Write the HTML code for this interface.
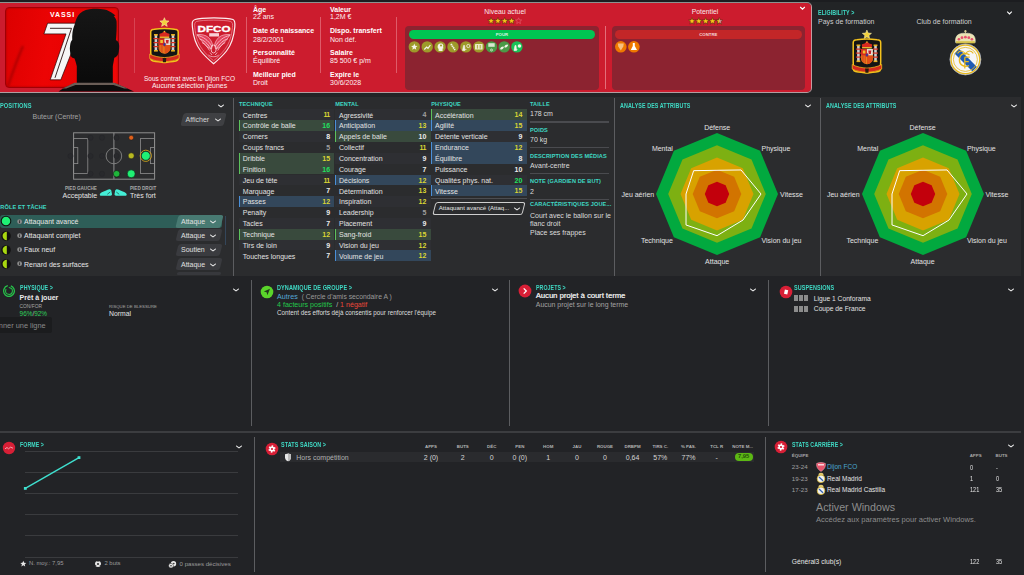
<!DOCTYPE html>
<html><head><meta charset="utf-8">
<style>
*{box-sizing:border-box;margin:0;padding:0}
html,body{width:1024px;height:575px;overflow:hidden}
body{position:relative;background:#222426;font-family:"Liberation Sans",sans-serif;color:#e6e6e6}
.a{position:absolute}
.t{position:absolute;white-space:nowrap;line-height:1}
.h{position:absolute;white-space:nowrap;line-height:1;color:#3fd9c4;font-weight:bold;font-size:5.6px;letter-spacing:0.1px}
.sep{position:absolute;width:1px;background:#5c5d60}
.chev{position:absolute;width:7px;height:5px}
</style></head>
<body>
<!-- ===== HEADER ===== -->
<div class="a" style="left:0;top:0;width:1024px;height:2px;background:#1c1d20"></div>
<div class="a" id="hdr" style="left:-4px;top:2px;width:815.8px;height:91px;background:#cc1c2e;background-clip:padding-box;border:1px solid #c49ca1;border-top-color:#8d928f;border-bottom-color:#b39c9f;border-radius:0 5px 5px 0"></div>


<!-- jersey box -->
<div class="a" style="left:5px;top:7px;width:114px;height:81px;border-radius:4px;background:linear-gradient(100deg,#dc0000 0%,#ec0404 40%,#e60202 70%,#f20808 100%);border:1px solid #a00006;box-shadow:inset 0 0 2px rgba(80,0,0,0.5)"></div><svg class="a" style="left:5px;top:40px" width="30" height="48" viewBox="5 40 30 48"><defs><filter id="fb" x="-50%" y="-50%" width="200%" height="200%"><feGaussianBlur stdDeviation="0.9"/></filter></defs><path d="M8 86 C12 74 17 60 23 46" stroke="rgba(110,0,0,0.45)" stroke-width="2.2" fill="none" filter="url(#fb)"/></svg>
<div class="t" style="left:50px;top:11px;font-size:7px;font-weight:bold;letter-spacing:0.9px;color:#fff">VASSI</div>
<svg class="a" style="left:0;top:0" width="140" height="93" viewBox="0 0 140 93">
 <defs><linearGradient id="hg" x1="0" y1="0" x2="0" y2="1"><stop offset="0" stop-color="#161616"/><stop offset="1" stop-color="#0a0a0a"/></linearGradient></defs>
 <path d="M47.6 23.2 L80 23.2 L80 31 L60.8 79.8 L50.2 79.8 L66 33.9 L43.9 33.9 Z" fill="#f6f6f6" stroke="#2a0505" stroke-width="0.7"/>
 <path d="M50 28.3 L71.5 28.3 L55 77.8" fill="none" stroke="#2a1010" stroke-width="0.9"/>
 <path d="M79.9 13.4 C83 10.5 88 9 93 8.8 C98 8.7 102 9.2 104.4 9.6 L106.7 9.9 C110 11.5 113 13 115.5 15.5 L113.8 15.9 C115.5 18 116.6 20 116.6 21.8 C116.8 28 116.5 34 115.9 40.2 C117.5 40.5 119.2 42.5 119.2 46 C119.2 50 118.5 54 117.4 55.5 C116.5 56.8 115.3 57.5 114.3 57.8 C113.8 61 113.2 64 112.8 66.2 L112.8 84.5 L76.8 84.5 L76.8 66.2 C76 63 75.2 60.5 74.5 58.6 C72.5 58 71 57 70.7 55.5 C70 52 69.6 48.5 70 46.3 C70.4 42.5 71.2 40.5 72.2 40 C72 35 72.5 29 74.5 24.9 C75.8 19.5 77.5 15.5 79.9 13.4 Z" fill="url(#hg)"/>
 <path d="M58.5 91.5 L63 88.4 L74.5 83 L114.3 83 L127.4 88.4 L134 91.5 Z" fill="#0c0c0c"/>
 <path d="M62.5 88.6 L74.5 82.8 L114.3 82.8 L127.6 88.6 L124.2 88.6 L113.5 85 L75.5 85 L66.2 88.6 Z" fill="#6b5e57"/>
</svg>
<!-- header separators -->
<div class="a" style="left:134px;top:18px;width:1px;height:55px;background:rgba(255,210,215,0.22)"></div>
<div class="a" style="left:246px;top:17px;width:1px;height:56px;background:rgba(255,210,215,0.35)"></div>
<div class="a" style="left:320px;top:17px;width:1px;height:56px;background:rgba(255,210,215,0.35)"></div>
<div class="a" style="left:396px;top:17px;width:1px;height:56px;background:rgba(255,210,215,0.35)"></div>
<div class="a" style="left:605px;top:26px;width:1px;height:63px;background:rgba(255,210,215,0.45)"></div>
<!-- contract text -->
<div class="t" style="left:143px;top:76px;width:93px;text-align:center;font-size:6.5px;color:#fff2f4">Sous contrat avec le Dijon FCO</div>
<div class="t" style="left:139.5px;top:82.6px;width:100px;text-align:center;font-size:6.95px;color:#fff2f4">Aucune sélection jeunes</div>
<!-- info column 1 -->
<div class="t" style="left:253px;top:6px;font-size:7px;font-weight:bold;color:#fff">Âge</div>
<div class="t" style="left:253px;top:13.2px;font-size:7px;color:#fdf1f2">22 ans</div>
<div class="t" style="left:253px;top:26.7px;font-size:7px;font-weight:bold;color:#fff">Date de naissance</div>
<div class="t" style="left:253px;top:35.8px;font-size:7px;color:#fdf1f2">28/2/2001</div>
<div class="t" style="left:253px;top:49px;font-size:7px;font-weight:bold;color:#fff">Personnalité</div>
<div class="t" style="left:253px;top:57.3px;font-size:7px;color:#fdf1f2">Équilibré</div>
<div class="t" style="left:253px;top:70.5px;font-size:7px;font-weight:bold;color:#fff">Meilleur pied</div>
<div class="t" style="left:253px;top:78.8px;font-size:7px;color:#fdf1f2">Droit</div>
<!-- info column 2 -->
<div class="t" style="left:330px;top:6px;font-size:7px;font-weight:bold;color:#fff">Valeur</div>
<div class="t" style="left:330px;top:13.2px;font-size:7px;color:#fdf1f2">1,2M €</div>
<div class="t" style="left:330px;top:26.7px;font-size:7px;font-weight:bold;color:#fff">Dispo. transfert</div>
<div class="t" style="left:330px;top:35.8px;font-size:7px;color:#fdf1f2">Non déf.</div>
<div class="t" style="left:330px;top:49px;font-size:7px;font-weight:bold;color:#fff">Salaire</div>
<div class="t" style="left:330px;top:57.3px;font-size:7px;color:#fdf1f2">85 500 € p/m</div>
<div class="t" style="left:330px;top:70.5px;font-size:7px;font-weight:bold;color:#fff">Expire le</div>
<div class="t" style="left:330px;top:78.8px;font-size:7px;color:#fdf1f2">30/6/2028</div>
<!-- niveau / potentiel -->
<div class="t" style="left:455px;top:8.8px;width:100px;text-align:center;font-size:6.85px;color:#fbe6e8">Niveau actuel</div>
<div class="t" style="left:655px;top:8.8px;width:100px;text-align:center;font-size:6.85px;color:#fbe6e8">Potentiel</div>
<!-- POUR / CONTRE boxes -->
<div class="a" style="left:405px;top:26px;width:194px;height:63.5px;border-radius:4px;background:#8c2330"></div>
<div class="a" style="left:408.7px;top:30px;width:186.5px;height:9.2px;border-radius:5px;background:#00c552"></div>
<div class="t" style="left:408.7px;top:33.3px;width:186.5px;text-align:center;font-size:4.3px;font-weight:bold;color:#d8f8e0">POUR</div>
<div class="a" style="left:611.5px;top:26px;width:193.5px;height:63.5px;border-radius:4px;background:#8c2330"></div>
<div class="a" style="left:615px;top:30px;width:186.7px;height:9.2px;border-radius:5px;background:#c32628"></div>
<div class="t" style="left:615px;top:33.3px;width:186.7px;text-align:center;font-size:4.3px;font-weight:bold;color:#f4d6d6">CONTRE</div>

<svg class="a" style="left:0;top:0" width="812" height="93" viewBox="0 0 812 93"><polygon points="491.10,17.40 492.05,19.69 494.52,19.89 492.64,21.50 493.22,23.91 491.10,22.62 488.98,23.91 489.56,21.50 487.68,19.89 490.15,19.69" fill="#f6c419" stroke="#5a2a10" stroke-width="0.6"/><polygon points="497.90,17.40 498.85,19.69 501.32,19.89 499.44,21.50 500.02,23.91 497.90,22.62 495.78,23.91 496.36,21.50 494.48,19.89 496.95,19.69" fill="#f6c419" stroke="#5a2a10" stroke-width="0.6"/><polygon points="504.70,17.40 505.65,19.69 508.12,19.89 506.24,21.50 506.82,23.91 504.70,22.62 502.58,23.91 503.16,21.50 501.28,19.89 503.75,19.69" fill="#f6c419" stroke="#5a2a10" stroke-width="0.6"/><polygon points="511.60,17.40 512.55,19.69 515.02,19.89 513.14,21.50 513.72,23.91 511.60,22.62 509.48,23.91 510.06,21.50 508.18,19.89 510.65,19.69" fill="#f6c419" stroke="#5a2a10" stroke-width="0.6"/><polygon points="518.60,17.80 519.45,19.84 521.64,20.01 519.97,21.44 520.48,23.59 518.60,22.44 516.72,23.59 517.23,21.44 515.56,20.01 517.75,19.84" fill="none" stroke="#e8707c" stroke-width="0.5"/><polygon points="692.00,17.60 692.95,19.89 695.42,20.09 693.54,21.70 694.12,24.11 692.00,22.82 689.88,24.11 690.46,21.70 688.58,20.09 691.05,19.89" fill="#f6c419" stroke="#5a2a10" stroke-width="0.6"/><polygon points="698.80,17.60 699.75,19.89 702.22,20.09 700.34,21.70 700.92,24.11 698.80,22.82 696.68,24.11 697.26,21.70 695.38,20.09 697.85,19.89" fill="#f6c419" stroke="#5a2a10" stroke-width="0.6"/><polygon points="705.70,17.60 706.65,19.89 709.12,20.09 707.24,21.70 707.82,24.11 705.70,22.82 703.58,24.11 704.16,21.70 702.28,20.09 704.75,19.89" fill="#f6c419" stroke="#5a2a10" stroke-width="0.6"/><polygon points="712.50,17.60 713.45,19.89 715.92,20.09 714.04,21.70 714.62,24.11 712.50,22.82 710.38,24.11 710.96,21.70 709.08,20.09 711.55,19.89" fill="#f6c419" stroke="#5a2a10" stroke-width="0.6"/><defs><clipPath id="hs"><rect x="714" y="15" width="5.3" height="12"/></clipPath></defs><polygon points="719.40,17.60 720.35,19.89 722.82,20.09 720.94,21.70 721.52,24.11 719.40,22.82 717.28,24.11 717.86,21.70 715.98,20.09 718.45,19.89" fill="#d89098" stroke="#5a2a10" stroke-width="0.5"/><g clip-path="url(#hs)"><polygon points="719.40,17.60 720.35,19.89 722.82,20.09 720.94,21.70 721.52,24.11 719.40,22.82 717.28,24.11 717.86,21.70 715.98,20.09 718.45,19.89" fill="#f6c419" stroke="#5a2a10" stroke-width="0.6"/></g><circle cx="414.3" cy="46.9" r="5.7" fill="#9d9a2a"/><circle cx="427.2" cy="46.9" r="5.7" fill="#9d9a2a"/><circle cx="440.1" cy="46.9" r="5.7" fill="#9d9a2a"/><circle cx="453.0" cy="46.9" r="5.7" fill="#9d9a2a"/><circle cx="465.9" cy="46.9" r="5.7" fill="#9d9a2a"/><circle cx="478.8" cy="46.9" r="5.7" fill="#9d9a2a"/><circle cx="491.5" cy="46.9" r="5.7" fill="#4b9a47"/><circle cx="504.2" cy="46.9" r="5.7" fill="#4b9a47"/><circle cx="516.9" cy="46.9" r="5.7" fill="#19c157"/><polygon points="414.30,43.60 415.20,45.76 417.53,45.95 415.76,47.47 416.30,49.75 414.30,48.53 412.30,49.75 412.84,47.47 411.07,45.95 413.40,45.76" fill="#f4f4e8" stroke="none" stroke-width="0"/><path d="M424.3 49.5 L426.6 47 L428 48.3 L430.4 45" stroke="#f4f4e8" stroke-width="1.2" fill="none"/><path d="M438.6 51 L438.6 48.8 C437 47.8 437.2 43.6 440.4 43.4 C443.2 43.3 443.8 45.6 443 47 L443.6 48.3 L442.6 48.6 L442.6 51 Z" fill="#f4f4e8"/><circle cx="441" cy="45.4" r="1" fill="#9c9a26"/><path d="M451 44 L455 50" stroke="#f4f4e8" stroke-width="1.8" stroke-dasharray="1.4 0.6"/><path d="M462.5 50.5 L465 50.5 L464.6 45.5 L463.6 45.5 Z M463 49.5 L466.5 49.5" fill="#f4f4e8" stroke="#f4f4e8" stroke-width="0.6"/><circle cx="468.3" cy="46" r="1.6" fill="none" stroke="#f4f4e8" stroke-width="0.8"/><rect x="475" y="44" width="7.6" height="5.6" rx="0.5" fill="#ecebc8"/><path d="M477.4 45 L477.4 48.6 M480.2 45 L480.2 48.6" stroke="#9c9a26" stroke-width="0.8"/><rect x="488.3" y="43.2" width="6.4" height="3.6" fill="#d8e8d0"/><circle cx="491.5" cy="50" r="1" fill="none" stroke="#f4f4e8" stroke-width="0.7"/><ellipse cx="502" cy="48" rx="2.1" ry="1.1" transform="rotate(-35 502 48)" fill="#f4f4e8"/><ellipse cx="506.2" cy="46" rx="2.1" ry="1.1" transform="rotate(-35 506.2 46)" fill="#f4f4e8"/><path d="M514 50.5 L516.5 50.5 L516 45.5 L515 45.5 Z M514.4 49.5 L517.5 49.5" fill="#f4f4e8" stroke="#f4f4e8" stroke-width="0.6"/><circle cx="519.5" cy="46" r="1.8" fill="#f4f4e8"/><circle cx="620.8" cy="46.8" r="5.8" fill="#ef7800"/><circle cx="633.9" cy="46.8" r="5.8" fill="#ef7800"/><path d="M617.8 43.5 L623.8 43.5 L623.3 46.5 L620.8 50.5 L618.3 46.5 Z" fill="#f7c080"/><path d="M632.8 43 L634.8 43 L634.8 46 L637 50 L630.8 50 L632.8 46 Z" fill="#fff"/><g id="spainH"><polygon points="164.40,17.70 165.67,20.75 168.97,21.02 166.45,23.17 167.22,26.38 164.40,24.66 161.58,26.38 162.35,23.17 159.83,21.02 163.13,20.75" fill="#f2d13c" stroke="#fff4b8" stroke-width="0.5"/><g transform="translate(150.3,29)"><path d="M0.4 3 C0.4 1 2 0.2 4 0.2 C9 -0.4 19.3 -0.4 24.3 0.2 C26.3 0.2 27.9 1 27.9 3 L27.9 22 C27.9 25 27.4 26.5 27.8 28 C28.6 30.5 27 32.3 23 32.4 C19 32.8 17 33.2 14.15 33.6 C11.3 33.2 9.3 32.8 5.3 32.4 C1.3 32.3 -0.3 30.5 0.5 28 C0.9 26.5 0.4 25 0.4 22 Z" fill="#151515" stroke="#f4c21c" stroke-width="1.5"/><path d="M2.2 3.6 C2.2 2.6 3 2.2 4.5 2.2 L23.8 2.2 C25.3 2.2 26.1 2.6 26.1 3.6 L26.1 25 L2.2 25 Z" fill="#141414"/><rect x="4.3" y="6" width="2.6" height="16" fill="#cfcfcf"/><rect x="3.6999999999999997" y="5" width="3.8" height="1.6" fill="#e8b020"/><rect x="3.6999999999999997" y="21" width="3.8" height="1.6" fill="#e8b020"/><rect x="3.0999999999999996" y="9" width="5" height="1.2" fill="#d83020"/><rect x="3.0999999999999996" y="13" width="5" height="1.2" fill="#d83020"/><rect x="3.0999999999999996" y="17" width="5" height="1.2" fill="#d83020"/><rect x="21.4" y="6" width="2.6" height="16" fill="#cfcfcf"/><rect x="20.799999999999997" y="5" width="3.8" height="1.6" fill="#e8b020"/><rect x="20.799999999999997" y="21" width="3.8" height="1.6" fill="#e8b020"/><rect x="20.2" y="9" width="5" height="1.2" fill="#d83020"/><rect x="20.2" y="13" width="5" height="1.2" fill="#d83020"/><rect x="20.2" y="17" width="5" height="1.2" fill="#d83020"/><path d="M9.5 8.6 L18.8 8.6 L19.3 5 C18 4 16.5 4.8 15.8 3.2 C15 2.2 13.3 2.2 12.5 3.2 C11.8 4.8 10.3 4 9 5 Z" fill="#d82a20"/><rect x="9.3" y="7.6" width="9.7" height="1.3" fill="#f0c030"/><circle cx="14.15" cy="2.6" r="0.8" fill="#f0c030"/><path d="M8.3 9.4 L20 9.4 L20 19.5 C20 22.5 17 24.2 14.15 24.8 C11.3 24.2 8.3 22.5 8.3 19.5 Z" fill="#e88a1c"/><rect x="8.3" y="9.4" width="5.85" height="6.6" fill="#d42a1e"/><rect x="14.15" y="9.4" width="5.85" height="6.6" fill="#e4ddd4"/><rect x="10" y="11" width="2.6" height="3" fill="#f0c030"/><path d="M15.5 11 L18.5 11 L18 14.5 L16 14.5 Z" fill="#c8202a"/><path d="M14.15 16 L20 16 L20 19.5 C20 22.5 17 24.2 14.15 24.8 Z" fill="#e05018"/><path d="M9.5 16 L9.5 22 M11 16 L11 23.3 M12.5 16 L12.5 24" stroke="#d42a1e" stroke-width="0.7"/><ellipse cx="14.15" cy="15.5" rx="1.3" ry="1.8" fill="#2a3aa0" stroke="#d42a1e" stroke-width="0.5"/><path d="M-0.6 25 C4 27.5 9 28.2 14.15 28.6 C19.3 28.2 24.3 27.5 28.9 25 L28.9 29.5 C24.3 32 19.3 32.4 14.15 32.8 C9 32.4 4 32 -0.6 29.5 Z" fill="#d42a1e" stroke="#f4c21c" stroke-width="0.7"/><path d="M12.3 29 L16 29 L15.6 33.3 L12.7 33.3 Z" fill="#2a1a10"/></g></g><g id="dfco"><path d="M195 19.5 C201 17.3 227 17.3 233 19.5 C235.3 20.5 235.2 23 234.8 27 C234 36 232 44 226.5 51 C222.5 56 218 60 213.6 63.8 C209.2 60 204.7 56 200.7 51 C195.2 44 193.2 36 192.4 27 C192 23 191.9 20.5 195 19.5 Z" fill="none" stroke="#fdeef0" stroke-width="1.2"/><path d="M196.5 21.5 C202 19.7 225.2 19.7 230.7 21.5 C232.7 22.3 232.8 24.5 232.4 27.5 C231.6 35.5 229.8 42.8 224.8 49.4 C221.2 54 217.5 57.5 213.6 60.8 C209.7 57.5 206 54 202.4 49.4 C197.4 42.8 195.6 35.5 194.8 27.5 C194.4 24.5 194.5 22.3 196.5 21.5 Z" fill="none" stroke="#f6a8b2" stroke-width="0.6"/><text x="214" y="31.9" text-anchor="middle" font-family="Liberation Sans" font-weight="bold" font-size="9.6" fill="#fff" stroke="#fff" stroke-width="0.35" textLength="33" lengthAdjust="spacingAndGlyphs">DFCO</text><rect x="209.2" y="33.2" width="9.8" height="3.3" fill="#f8d0d6"/><path d="M197 34.6 C201 34.2 205.5 34.8 208.5 37.5 C210.5 39.5 212 42 212.6 45 L211.5 49 C209 48.5 206.5 46.5 204.5 44 C201.5 41 199 38 197 34.6 Z" fill="#e3405a" stroke="#fbd6dc" stroke-width="0.6"/><g transform="translate(427.2 0) scale(-1 1)"><path d="M197 34.6 C201 34.2 205.5 34.8 208.5 37.5 C210.5 39.5 212 42 212.6 45 L211.5 49 C209 48.5 206.5 46.5 204.5 44 C201.5 41 199 38 197 34.6 Z" fill="#e3405a" stroke="#fbd6dc" stroke-width="0.6"/></g><path d="M197.5 35.5 C203 36.5 208 40 212 46.5 M229.7 35.5 C224.2 36.5 219.2 40 215.2 46.5 M199.5 39 C204 40 207.5 43.5 210.6 48.5 M227.7 39 C223.2 40 219.7 43.5 216.6 48.5 M202 42.5 C205 44 207.5 47 209.5 50.5 M225.2 42.5 C222.2 44 219.7 47 217.7 50.5" stroke="#fbd6dc" stroke-width="0.75" fill="none"/><ellipse cx="213.6" cy="49" rx="2.6" ry="4" fill="none" stroke="#fbd6dc" stroke-width="0.8"/><path d="M208.5 55 C211 57.3 216.2 57.3 218.7 55 M210 52.5 L212 55 M217.2 52.5 L215.2 55" stroke="#fbd6dc" stroke-width="0.7" fill="none"/></g><path d="M800.2 7 L802.5 9.2 L804.8 7" stroke="#fff" stroke-width="1.1" fill="none"/></svg>

<!-- eligibility -->
<div class="h" style="left:818px;top:9.6px;font-size:6.3px;transform:scaleX(0.847);transform-origin:0 0">ELIGIBILITY &gt;</div>
<div class="t" style="left:818px;top:17.8px;font-size:7px;color:#cfcfcf">Pays de formation</div>
<div class="t" style="left:916.5px;top:17.8px;font-size:7px;color:#cfcfcf">Club de formation</div>
<svg class="a" style="left:812px;top:0" width="212" height="96" viewBox="812 0 212 96"><path d="M1007.2 11.7 L1009.5 13.9 L1011.8 11.7" stroke="#fff" stroke-width="1.1" fill="none"/><g id="spainE"><polygon points="866.90,30.00 868.17,33.05 871.47,33.32 868.95,35.47 869.72,38.68 866.90,36.96 864.08,38.68 864.85,35.47 862.33,33.32 865.63,33.05" fill="#f2d13c" stroke="#fff4b8" stroke-width="0.5"/><g transform="translate(852.8,39.5)"><path d="M0.4 3 C0.4 1 2 0.2 4 0.2 C9 -0.4 19.3 -0.4 24.3 0.2 C26.3 0.2 27.9 1 27.9 3 L27.9 22 C27.9 25 27.4 26.5 27.8 28 C28.6 30.5 27 32.3 23 32.4 C19 32.8 17 33.2 14.15 33.6 C11.3 33.2 9.3 32.8 5.3 32.4 C1.3 32.3 -0.3 30.5 0.5 28 C0.9 26.5 0.4 25 0.4 22 Z" fill="#151515" stroke="#f4c21c" stroke-width="1.5"/><path d="M2.2 3.6 C2.2 2.6 3 2.2 4.5 2.2 L23.8 2.2 C25.3 2.2 26.1 2.6 26.1 3.6 L26.1 25 L2.2 25 Z" fill="#141414"/><rect x="4.3" y="6" width="2.6" height="16" fill="#cfcfcf"/><rect x="3.6999999999999997" y="5" width="3.8" height="1.6" fill="#e8b020"/><rect x="3.6999999999999997" y="21" width="3.8" height="1.6" fill="#e8b020"/><rect x="3.0999999999999996" y="9" width="5" height="1.2" fill="#d83020"/><rect x="3.0999999999999996" y="13" width="5" height="1.2" fill="#d83020"/><rect x="3.0999999999999996" y="17" width="5" height="1.2" fill="#d83020"/><rect x="21.4" y="6" width="2.6" height="16" fill="#cfcfcf"/><rect x="20.799999999999997" y="5" width="3.8" height="1.6" fill="#e8b020"/><rect x="20.799999999999997" y="21" width="3.8" height="1.6" fill="#e8b020"/><rect x="20.2" y="9" width="5" height="1.2" fill="#d83020"/><rect x="20.2" y="13" width="5" height="1.2" fill="#d83020"/><rect x="20.2" y="17" width="5" height="1.2" fill="#d83020"/><path d="M9.5 8.6 L18.8 8.6 L19.3 5 C18 4 16.5 4.8 15.8 3.2 C15 2.2 13.3 2.2 12.5 3.2 C11.8 4.8 10.3 4 9 5 Z" fill="#d82a20"/><rect x="9.3" y="7.6" width="9.7" height="1.3" fill="#f0c030"/><circle cx="14.15" cy="2.6" r="0.8" fill="#f0c030"/><path d="M8.3 9.4 L20 9.4 L20 19.5 C20 22.5 17 24.2 14.15 24.8 C11.3 24.2 8.3 22.5 8.3 19.5 Z" fill="#e88a1c"/><rect x="8.3" y="9.4" width="5.85" height="6.6" fill="#d42a1e"/><rect x="14.15" y="9.4" width="5.85" height="6.6" fill="#e4ddd4"/><rect x="10" y="11" width="2.6" height="3" fill="#f0c030"/><path d="M15.5 11 L18.5 11 L18 14.5 L16 14.5 Z" fill="#c8202a"/><path d="M14.15 16 L20 16 L20 19.5 C20 22.5 17 24.2 14.15 24.8 Z" fill="#e05018"/><path d="M9.5 16 L9.5 22 M11 16 L11 23.3 M12.5 16 L12.5 24" stroke="#d42a1e" stroke-width="0.7"/><ellipse cx="14.15" cy="15.5" rx="1.3" ry="1.8" fill="#2a3aa0" stroke="#d42a1e" stroke-width="0.5"/><path d="M-0.6 25 C4 27.5 9 28.2 14.15 28.6 C19.3 28.2 24.3 27.5 28.9 25 L28.9 29.5 C24.3 32 19.3 32.4 14.15 32.8 C9 32.4 4 32 -0.6 29.5 Z" fill="#d42a1e" stroke="#f4c21c" stroke-width="0.7"/><path d="M12.3 29 L16 29 L15.6 33.3 L12.7 33.3 Z" fill="#2a1a10"/></g></g><path d="M955.6 42.6 C955 38.2 956.5 35.2 959 34.2 C961 33.3 963 33.1 965.4 33.3 C967.8 33.1 969.8 33.3 971.8 34.2 C974.3 35.2 975.8 38.2 975.2 42.6 Z" fill="#ebe3b4" stroke="#f6f0d0" stroke-width="0.5"/>
<path d="M965.4 30 L965.4 33.5 M964 31.2 L966.8 31.2" stroke="#e8dca0" stroke-width="0.9"/>
<circle cx="958.9" cy="39.3" r="1.3" fill="#e8506e"/><circle cx="962" cy="37.7" r="1.4" fill="#e8506e"/><circle cx="965.4" cy="37.2" r="1.4" fill="#e8506e"/><circle cx="968.8" cy="37.7" r="1.4" fill="#e8506e"/><circle cx="971.9" cy="39.3" r="1.3" fill="#e8506e"/>
<rect x="956" y="41.2" width="18.8" height="2.1" fill="#d6c24a"/>
<defs><clipPath id="rmc"><circle cx="965.4" cy="59.4" r="13.6"/></clipPath></defs>
<circle cx="965.4" cy="59.4" r="15.5" fill="#f6f6f6" stroke="#a8adb8" stroke-width="0.8"/>
<circle cx="965.4" cy="59.4" r="14.3" fill="none" stroke="#e6b81e" stroke-width="1.3"/>
<polygon points="954.5,53.5 959,48.8 977,67 972.5,71.5" fill="#1f5bb5" clip-path="url(#rmc)"/>
<circle cx="965.4" cy="59.4" r="12" fill="none" stroke="#e6b81e" stroke-width="0.8"/>
<path d="M957.5 53.3 C960 50.2 963 50.2 965.4 54 C967.8 50.2 970.8 50.2 973.3 53.3" stroke="#e8b820" stroke-width="1.1" fill="none"/>
<path d="M969.5 55 C965.5 52 959.6 53.6 959.4 59.8 C959.4 65.2 964 67.6 969 65.6" stroke="#e8b820" stroke-width="1.4" fill="none"/>
<path d="M964.8 57.2 L964.8 68.5 M964.8 57.2 L969.8 57.2 M964.8 61.6 L968.8 61.6" stroke="#e8b820" stroke-width="1.3" fill="none"/>
</svg>
<!-- ===== ROW 2 ===== -->
<div class="a" style="left:0;top:97px;width:1020.5px;height:179px;background:#2b2c2e"></div>
<div class="sep" style="left:233px;top:98px;height:178px"></div>
<div class="sep" style="left:614px;top:98px;height:178px"></div>
<div class="sep" style="left:820px;top:98px;height:178px"></div>

<!--R2S--><div class="h" style="left:-0.3px;top:102.87px;font-size:6.3px;transform:scaleX(0.9);transform-origin:0 0">POSITIONS</div>
<svg class="a" style="left:217.6px;top:104.3px" width="6" height="4" viewBox="0 0 6 4"><path d="M0.2 0.3 L3 2.3 L5.8 0.3 L5.8 1.5 L3 3.6 L0.2 1.5 Z" fill="#f0f0f0"/></svg>
<div class="t" style="left:32.5px;top:112.8px;font-size:7px;color:#a2a2a2;font-weight:normal;">Buteur (Centre)</div>
<div class="a" style="left:182.2px;top:112.6px;width:43px;height:13.2px;background:#3f4043;border-radius:2.5px;transform:skewX(-14deg)"></div>
<div class="t" style="left:185.5px;top:115.6px;font-size:7px;color:#d6d6d6;font-weight:normal;">Afficher</div>
<svg class="a" style="left:215.1px;top:117.6px" width="6" height="4" viewBox="0 0 6 4"><path d="M0.2 0.3 L3 2.3 L5.8 0.3 L5.8 1.5 L3 3.6 L0.2 1.5 Z" fill="#e0e0e0"/></svg>
<svg class="a" style="left:60px;top:125px" width="100" height="60" viewBox="60 125 100 60"><rect x="73.6" y="132.8" width="81" height="46.4" fill="none" stroke="#8e8e8e" stroke-width="1"/><path d="M113.9 132.8 L113.9 179.2" stroke="#8e8e8e" stroke-width="1"/><circle cx="113.9" cy="156" r="7.8" fill="none" stroke="#8e8e8e" stroke-width="0.8"/><rect x="73.6" y="138.6" width="14.2" height="34.8" fill="none" stroke="#8e8e8e" stroke-width="0.8"/><rect x="73.6" y="147.6" width="4.2" height="16" fill="none" stroke="#8e8e8e" stroke-width="0.8"/><rect x="140.4" y="138.6" width="14.2" height="34.8" fill="none" stroke="#8e8e8e" stroke-width="0.8"/><rect x="150.4" y="147.6" width="4.2" height="16" fill="none" stroke="#8e8e8e" stroke-width="0.8"/><circle cx="90.5" cy="137.7" r="2.6" fill="#28292c" stroke="#252528" stroke-width="0.5"/><circle cx="102" cy="137.7" r="2.6" fill="#28292c" stroke="#252528" stroke-width="0.5"/><circle cx="116.5" cy="137.7" r="2.6" fill="#28292c" stroke="#252528" stroke-width="0.5"/><circle cx="70.5" cy="156" r="2.6" fill="#28292c" stroke="#252528" stroke-width="0.5"/><circle cx="90.5" cy="156" r="2.6" fill="#28292c" stroke="#252528" stroke-width="0.5"/><circle cx="102" cy="156" r="2.6" fill="#28292c" stroke="#252528" stroke-width="0.5"/><circle cx="116.5" cy="156" r="2.6" fill="#28292c" stroke="#252528" stroke-width="0.5"/><circle cx="90.5" cy="173.8" r="2.6" fill="#28292c" stroke="#252528" stroke-width="0.5"/><circle cx="102" cy="173.8" r="2.6" fill="#28292c" stroke="#252528" stroke-width="0.5"/><circle cx="131.2" cy="137.7" r="2.4" fill="#e0601a" stroke="#1a1a1a" stroke-width="0.5"/><circle cx="131.2" cy="155.8" r="3" fill="#b8b820" stroke="#1a1a1a" stroke-width="0.5"/><circle cx="116.6" cy="173.8" r="3.3" fill="#1fb53a" stroke="#111" stroke-width="0.6"/><circle cx="131.2" cy="173.8" r="4" fill="#1ff074" stroke="#111" stroke-width="0.6"/><circle cx="145.8" cy="155.8" r="5.6" fill="none" stroke="#d4a41a" stroke-width="0.9"/><circle cx="145.8" cy="155.8" r="4.4" fill="#1ff074" stroke="#111" stroke-width="0.5"/></svg>
<div class="t" style="left:64.6px;top:187.3px;font-size:4.6px;color:#a8a8a8;font-weight:bold;width:32.3px;text-align:right;left:64.6px;">PIED GAUCHE</div>
<div class="t" style="left:62.5px;top:192px;font-size:7px;color:#e4e4e4;font-weight:normal;width:34.4px;text-align:right;">Acceptable</div>
<div class="t" style="left:130px;top:187.3px;font-size:4.6px;color:#a8a8a8;font-weight:bold;">PIED DROIT</div>
<div class="t" style="left:130px;top:192px;font-size:7px;color:#e4e4e4;font-weight:normal;">Très fort</div>
<svg class="a" style="left:98px;top:187px" width="32" height="12" viewBox="98 187 32 12"><path d="M99.8 194.2 C100 192.8 103 191.8 105.5 190.8 C107 190.2 108.3 189.3 109.4 189.2 C110.4 189.2 111 189.8 111.3 190.5 L112 194.3 C112 195.2 111.5 195.7 110.5 195.7 L101.3 195.7 C100.3 195.7 99.7 195.2 99.8 194.2 Z" fill="#44eed6"/><path d="M107.3 194.3 L110.2 192" stroke="#23413d" stroke-width="0.7"/><g transform="translate(226.5 0) scale(-1 1)"><path d="M99.8 194.2 C100 192.8 103 191.8 105.5 190.8 C107 190.2 108.3 189.3 109.4 189.2 C110.4 189.2 111 189.8 111.3 190.5 L112 194.3 C112 195.2 111.5 195.7 110.5 195.7 L101.3 195.7 C100.3 195.7 99.7 195.2 99.8 194.2 Z" fill="#44eed6"/><path d="M107.3 194.3 L110.2 192" stroke="#23413d" stroke-width="0.7"/></g></svg>
<div class="h" style="left:0.3px;top:205.00px;font-size:5.6px;">RÔLE ET TÂCHE</div>
<div class="a" style="left:0;top:215.2px;width:222px;height:12.6px;background:#2e5e58;border-radius:3px"></div>
<div class="a" style="left:177px;top:215.2px;width:44.6px;height:12.6px;background:#487a72;border-radius:2.5px;transform:skewX(-14deg)"></div>
<svg class="a" style="left:0;top:215.4px" width="12" height="12" viewBox="0 0 12 12"><circle cx="6" cy="6" r="4.8" fill="#1ff074" stroke="#111" stroke-width="1.1"/></svg>
<svg class="a" style="left:16.5px;top:218.8px" width="5.2" height="5.2" viewBox="0 0 6 6"><circle cx="3" cy="3" r="2.8" fill="#8a8a8a"/><rect x="2.5" y="2.4" width="1" height="2.4" fill="#2a2a2a"/><rect x="2.5" y="1.1" width="1" height="0.8" fill="#2a2a2a"/></svg>
<div class="t" style="left:24px;top:218.0px;font-size:7px;color:#e6e6e6;font-weight:normal;">Attaquant avancé</div>
<div class="t" style="left:181px;top:218.0px;font-size:7px;color:#e0e0e0;font-weight:normal;">Attaque</div>
<svg class="a" style="left:210.1px;top:220.00000000000003px" width="6" height="4" viewBox="0 0 6 4"><path d="M0.2 0.3 L3 2.3 L5.8 0.3 L5.8 1.5 L3 3.6 L0.2 1.5 Z" fill="#e8e8e8"/></svg>
<svg class="a" style="left:0;top:229.6px" width="12" height="12" viewBox="0 0 12 12"><circle cx="6" cy="6" r="4.8" fill="#111"/><path d="M6.8 1.8 A4.2 4.2 0 0 0 6.8 10.2 Z" fill="#a8d810"/></svg>
<div class="a" style="left:177px;top:229.29999999999998px;width:44px;height:12.3px;background:#3a3b3f;border-radius:2.5px;transform:skewX(-14deg)"></div>
<svg class="a" style="left:16.5px;top:233.0px" width="5.2" height="5.2" viewBox="0 0 6 6"><circle cx="3" cy="3" r="2.8" fill="#8a8a8a"/><rect x="2.5" y="2.4" width="1" height="2.4" fill="#2a2a2a"/><rect x="2.5" y="1.1" width="1" height="0.8" fill="#2a2a2a"/></svg>
<div class="t" style="left:24px;top:232.2px;font-size:7px;color:#e6e6e6;font-weight:normal;">Attaquant complet</div>
<div class="t" style="left:181px;top:232.2px;font-size:7px;color:#e0e0e0;font-weight:normal;">Attaque</div>
<svg class="a" style="left:210.1px;top:234.20000000000002px" width="6" height="4" viewBox="0 0 6 4"><path d="M0.2 0.3 L3 2.3 L5.8 0.3 L5.8 1.5 L3 3.6 L0.2 1.5 Z" fill="#e8e8e8"/></svg>
<svg class="a" style="left:0;top:243.8px" width="12" height="12" viewBox="0 0 12 12"><circle cx="6" cy="6" r="4.8" fill="#111"/><path d="M6.8 1.8 A4.2 4.2 0 0 0 6.8 10.2 Z" fill="#a8d810"/></svg>
<div class="a" style="left:177px;top:243.5px;width:44px;height:12.3px;background:#3a3b3f;border-radius:2.5px;transform:skewX(-14deg)"></div>
<svg class="a" style="left:16.5px;top:247.20000000000002px" width="5.2" height="5.2" viewBox="0 0 6 6"><circle cx="3" cy="3" r="2.8" fill="#8a8a8a"/><rect x="2.5" y="2.4" width="1" height="2.4" fill="#2a2a2a"/><rect x="2.5" y="1.1" width="1" height="0.8" fill="#2a2a2a"/></svg>
<div class="t" style="left:24px;top:246.4px;font-size:7px;color:#e6e6e6;font-weight:normal;">Faux neuf</div>
<div class="t" style="left:181px;top:246.4px;font-size:7px;color:#e0e0e0;font-weight:normal;">Soutien</div>
<svg class="a" style="left:210.1px;top:248.40000000000003px" width="6" height="4" viewBox="0 0 6 4"><path d="M0.2 0.3 L3 2.3 L5.8 0.3 L5.8 1.5 L3 3.6 L0.2 1.5 Z" fill="#e8e8e8"/></svg>
<svg class="a" style="left:0;top:257.9px" width="12" height="12" viewBox="0 0 12 12"><circle cx="6" cy="6" r="4.8" fill="#111"/><path d="M6.8 1.8 A4.2 4.2 0 0 0 6.8 10.2 Z" fill="#a8d810"/></svg>
<div class="a" style="left:177px;top:257.59999999999997px;width:44px;height:12.3px;background:#3a3b3f;border-radius:2.5px;transform:skewX(-14deg)"></div>
<svg class="a" style="left:16.5px;top:261.29999999999995px" width="5.2" height="5.2" viewBox="0 0 6 6"><circle cx="3" cy="3" r="2.8" fill="#8a8a8a"/><rect x="2.5" y="2.4" width="1" height="2.4" fill="#2a2a2a"/><rect x="2.5" y="1.1" width="1" height="0.8" fill="#2a2a2a"/></svg>
<div class="t" style="left:24px;top:260.5px;font-size:7px;color:#e6e6e6;font-weight:normal;">Renard des surfaces</div>
<div class="t" style="left:181px;top:260.5px;font-size:7px;color:#e0e0e0;font-weight:normal;">Attaque</div>
<svg class="a" style="left:210.1px;top:262.5px" width="6" height="4" viewBox="0 0 6 4"><path d="M0.2 0.3 L3 2.3 L5.8 0.3 L5.8 1.5 L3 3.6 L0.2 1.5 Z" fill="#e8e8e8"/></svg>
<div class="a" style="left:177px;top:271.7px;width:44px;height:3px;background:#37383c;border-radius:2.5px;transform:skewX(-14deg)"></div>
<div class="a" style="left:224.5px;top:216px;width:1.6px;height:29px;background:#34465a"></div>
<div class="h" style="left:239.0px;top:102.00px;font-size:5.6px;">TECHNIQUE</div>
<div class="a" style="left:238.8px;top:109.40px;width:95.6px;height:10.85px;background:#2e2f33"></div>
<div class="t" style="left:242.8px;top:110.60px;line-height:10.85px;font-size:7px;color:#e2e2e2">Centres</div>
<div class="t" style="left:238.8px;top:110.40px;width:91.3px;text-align:right;line-height:10.85px;font-size:7px;font-weight:bold;color:#d9d534"><span style="margin-left:-1.1px">1</span><span style="margin-left:-1.1px">1</span></div>
<div class="a" style="left:238.8px;top:120.25px;width:95.6px;height:10.85px;background:#394a3d"></div>
<div class="a" style="left:238.8px;top:120.25px;width:1.3px;height:10.85px;background:#5cc25c"></div>
<div class="t" style="left:242.8px;top:121.45px;line-height:10.85px;font-size:7px;color:#e2e2e2">Contrôle de balle</div>
<div class="t" style="left:238.8px;top:121.25px;width:91.3px;text-align:right;line-height:10.85px;font-size:7px;font-weight:bold;color:#22e060"><span style="margin-left:-1.1px">1</span>6</div>
<div class="a" style="left:238.8px;top:131.10px;width:95.6px;height:10.85px;background:#2e2f33"></div>
<div class="t" style="left:242.8px;top:132.30px;line-height:10.85px;font-size:7px;color:#e2e2e2">Corners</div>
<div class="t" style="left:238.8px;top:132.10px;width:91.3px;text-align:right;line-height:10.85px;font-size:7px;font-weight:bold;color:#ececec">8</div>
<div class="a" style="left:238.8px;top:141.95px;width:95.6px;height:10.85px;background:transparent"></div>
<div class="t" style="left:242.8px;top:143.15px;line-height:10.85px;font-size:7px;color:#e2e2e2">Coups francs</div>
<div class="t" style="left:238.8px;top:142.95px;width:91.3px;text-align:right;line-height:10.85px;font-size:7px;font-weight:bold;color:#a0a0a0">5</div>
<div class="a" style="left:238.8px;top:152.80px;width:95.6px;height:10.85px;background:#394a3d"></div>
<div class="a" style="left:238.8px;top:152.80px;width:1.3px;height:10.85px;background:#5cc25c"></div>
<div class="t" style="left:242.8px;top:154.00px;line-height:10.85px;font-size:7px;color:#e2e2e2">Dribble</div>
<div class="t" style="left:238.8px;top:153.80px;width:91.3px;text-align:right;line-height:10.85px;font-size:7px;font-weight:bold;color:#d9d534"><span style="margin-left:-1.1px">1</span>5</div>
<div class="a" style="left:238.8px;top:163.65px;width:95.6px;height:10.85px;background:#394a3d"></div>
<div class="a" style="left:238.8px;top:163.65px;width:1.3px;height:10.85px;background:#5cc25c"></div>
<div class="t" style="left:242.8px;top:164.85px;line-height:10.85px;font-size:7px;color:#e2e2e2">Finition</div>
<div class="t" style="left:238.8px;top:164.65px;width:91.3px;text-align:right;line-height:10.85px;font-size:7px;font-weight:bold;color:#22e060"><span style="margin-left:-1.1px">1</span>6</div>
<div class="a" style="left:238.8px;top:174.50px;width:95.6px;height:10.85px;background:#2e2f33"></div>
<div class="t" style="left:242.8px;top:175.70px;line-height:10.85px;font-size:7px;color:#e2e2e2">Jeu de tête</div>
<div class="t" style="left:238.8px;top:175.50px;width:91.3px;text-align:right;line-height:10.85px;font-size:7px;font-weight:bold;color:#d9d534"><span style="margin-left:-1.1px">1</span><span style="margin-left:-1.1px">1</span></div>
<div class="a" style="left:238.8px;top:185.35px;width:95.6px;height:10.85px;background:transparent"></div>
<div class="t" style="left:242.8px;top:186.55px;line-height:10.85px;font-size:7px;color:#e2e2e2">Marquage</div>
<div class="t" style="left:238.8px;top:186.35px;width:91.3px;text-align:right;line-height:10.85px;font-size:7px;font-weight:bold;color:#ececec">7</div>
<div class="a" style="left:238.8px;top:196.20px;width:95.6px;height:10.85px;background:#33475b"></div>
<div class="a" style="left:238.8px;top:196.20px;width:1.3px;height:10.85px;background:#4a8fd8"></div>
<div class="t" style="left:242.8px;top:197.40px;line-height:10.85px;font-size:7px;color:#e2e2e2">Passes</div>
<div class="t" style="left:238.8px;top:197.20px;width:91.3px;text-align:right;line-height:10.85px;font-size:7px;font-weight:bold;color:#d9d534"><span style="margin-left:-1.1px">1</span>2</div>
<div class="a" style="left:238.8px;top:207.05px;width:95.6px;height:10.85px;background:transparent"></div>
<div class="t" style="left:242.8px;top:208.25px;line-height:10.85px;font-size:7px;color:#e2e2e2">Penalty</div>
<div class="t" style="left:238.8px;top:208.05px;width:91.3px;text-align:right;line-height:10.85px;font-size:7px;font-weight:bold;color:#ececec">9</div>
<div class="a" style="left:238.8px;top:217.90px;width:95.6px;height:10.85px;background:#2e2f33"></div>
<div class="t" style="left:242.8px;top:219.10px;line-height:10.85px;font-size:7px;color:#e2e2e2">Tacles</div>
<div class="t" style="left:238.8px;top:218.90px;width:91.3px;text-align:right;line-height:10.85px;font-size:7px;font-weight:bold;color:#ececec">7</div>
<div class="a" style="left:238.8px;top:228.75px;width:95.6px;height:10.85px;background:#394a3d"></div>
<div class="a" style="left:238.8px;top:228.75px;width:1.3px;height:10.85px;background:#5cc25c"></div>
<div class="t" style="left:242.8px;top:229.95px;line-height:10.85px;font-size:7px;color:#e2e2e2">Technique</div>
<div class="t" style="left:238.8px;top:229.75px;width:91.3px;text-align:right;line-height:10.85px;font-size:7px;font-weight:bold;color:#d9d534"><span style="margin-left:-1.1px">1</span>2</div>
<div class="a" style="left:238.8px;top:239.60px;width:95.6px;height:10.85px;background:#2e2f33"></div>
<div class="t" style="left:242.8px;top:240.80px;line-height:10.85px;font-size:7px;color:#e2e2e2">Tirs de loin</div>
<div class="t" style="left:238.8px;top:240.60px;width:91.3px;text-align:right;line-height:10.85px;font-size:7px;font-weight:bold;color:#ececec">9</div>
<div class="a" style="left:238.8px;top:250.45px;width:95.6px;height:10.85px;background:transparent"></div>
<div class="t" style="left:242.8px;top:251.65px;line-height:10.85px;font-size:7px;color:#e2e2e2">Touches longues</div>
<div class="t" style="left:238.8px;top:251.45px;width:91.3px;text-align:right;line-height:10.85px;font-size:7px;font-weight:bold;color:#ececec">7</div>
<div class="h" style="left:335.2px;top:102.00px;font-size:5.6px;">MENTAL</div>
<div class="a" style="left:335px;top:109.40px;width:95.6px;height:10.85px;background:#2e2f33"></div>
<div class="t" style="left:339px;top:110.60px;line-height:10.85px;font-size:7px;color:#e2e2e2">Agressivité</div>
<div class="t" style="left:335px;top:110.40px;width:91.3px;text-align:right;line-height:10.85px;font-size:7px;font-weight:bold;color:#a0a0a0">4</div>
<div class="a" style="left:335px;top:120.25px;width:95.6px;height:10.85px;background:#33475b"></div>
<div class="a" style="left:335px;top:120.25px;width:1.3px;height:10.85px;background:#4a8fd8"></div>
<div class="t" style="left:339px;top:121.45px;line-height:10.85px;font-size:7px;color:#e2e2e2">Anticipation</div>
<div class="t" style="left:335px;top:121.25px;width:91.3px;text-align:right;line-height:10.85px;font-size:7px;font-weight:bold;color:#d9d534"><span style="margin-left:-1.1px">1</span>3</div>
<div class="a" style="left:335px;top:131.10px;width:95.6px;height:10.85px;background:#394a3d"></div>
<div class="a" style="left:335px;top:131.10px;width:1.3px;height:10.85px;background:#5cc25c"></div>
<div class="t" style="left:339px;top:132.30px;line-height:10.85px;font-size:7px;color:#e2e2e2">Appels de balle</div>
<div class="t" style="left:335px;top:132.10px;width:91.3px;text-align:right;line-height:10.85px;font-size:7px;font-weight:bold;color:#ececec"><span style="margin-left:-1.1px">1</span>0</div>
<div class="a" style="left:335px;top:141.95px;width:95.6px;height:10.85px;background:transparent"></div>
<div class="t" style="left:339px;top:143.15px;line-height:10.85px;font-size:7px;color:#e2e2e2">Collectif</div>
<div class="t" style="left:335px;top:142.95px;width:91.3px;text-align:right;line-height:10.85px;font-size:7px;font-weight:bold;color:#d9d534"><span style="margin-left:-1.1px">1</span><span style="margin-left:-1.1px">1</span></div>
<div class="a" style="left:335px;top:152.80px;width:95.6px;height:10.85px;background:#2e2f33"></div>
<div class="t" style="left:339px;top:154.00px;line-height:10.85px;font-size:7px;color:#e2e2e2">Concentration</div>
<div class="t" style="left:335px;top:153.80px;width:91.3px;text-align:right;line-height:10.85px;font-size:7px;font-weight:bold;color:#ececec">9</div>
<div class="a" style="left:335px;top:163.65px;width:95.6px;height:10.85px;background:transparent"></div>
<div class="t" style="left:339px;top:164.85px;line-height:10.85px;font-size:7px;color:#e2e2e2">Courage</div>
<div class="t" style="left:335px;top:164.65px;width:91.3px;text-align:right;line-height:10.85px;font-size:7px;font-weight:bold;color:#ececec">7</div>
<div class="a" style="left:335px;top:174.50px;width:95.6px;height:10.85px;background:#33475b"></div>
<div class="a" style="left:335px;top:174.50px;width:1.3px;height:10.85px;background:#4a8fd8"></div>
<div class="t" style="left:339px;top:175.70px;line-height:10.85px;font-size:7px;color:#e2e2e2">Décisions</div>
<div class="t" style="left:335px;top:175.50px;width:91.3px;text-align:right;line-height:10.85px;font-size:7px;font-weight:bold;color:#d9d534"><span style="margin-left:-1.1px">1</span>2</div>
<div class="a" style="left:335px;top:185.35px;width:95.6px;height:10.85px;background:transparent"></div>
<div class="t" style="left:339px;top:186.55px;line-height:10.85px;font-size:7px;color:#e2e2e2">Détermination</div>
<div class="t" style="left:335px;top:186.35px;width:91.3px;text-align:right;line-height:10.85px;font-size:7px;font-weight:bold;color:#d9d534"><span style="margin-left:-1.1px">1</span>3</div>
<div class="a" style="left:335px;top:196.20px;width:95.6px;height:10.85px;background:#2e2f33"></div>
<div class="t" style="left:339px;top:197.40px;line-height:10.85px;font-size:7px;color:#e2e2e2">Inspiration</div>
<div class="t" style="left:335px;top:197.20px;width:91.3px;text-align:right;line-height:10.85px;font-size:7px;font-weight:bold;color:#d9d534"><span style="margin-left:-1.1px">1</span>2</div>
<div class="a" style="left:335px;top:207.05px;width:95.6px;height:10.85px;background:transparent"></div>
<div class="t" style="left:339px;top:208.25px;line-height:10.85px;font-size:7px;color:#e2e2e2">Leadership</div>
<div class="t" style="left:335px;top:208.05px;width:91.3px;text-align:right;line-height:10.85px;font-size:7px;font-weight:bold;color:#a0a0a0">5</div>
<div class="a" style="left:335px;top:217.90px;width:95.6px;height:10.85px;background:#2e2f33"></div>
<div class="t" style="left:339px;top:219.10px;line-height:10.85px;font-size:7px;color:#e2e2e2">Placement</div>
<div class="t" style="left:335px;top:218.90px;width:91.3px;text-align:right;line-height:10.85px;font-size:7px;font-weight:bold;color:#ececec">9</div>
<div class="a" style="left:335px;top:228.75px;width:95.6px;height:10.85px;background:#394a3d"></div>
<div class="a" style="left:335px;top:228.75px;width:1.3px;height:10.85px;background:#5cc25c"></div>
<div class="t" style="left:339px;top:229.95px;line-height:10.85px;font-size:7px;color:#e2e2e2">Sang-froid</div>
<div class="t" style="left:335px;top:229.75px;width:91.3px;text-align:right;line-height:10.85px;font-size:7px;font-weight:bold;color:#d9d534"><span style="margin-left:-1.1px">1</span>5</div>
<div class="a" style="left:335px;top:239.60px;width:95.6px;height:10.85px;background:#2e2f33"></div>
<div class="t" style="left:339px;top:240.80px;line-height:10.85px;font-size:7px;color:#e2e2e2">Vision du jeu</div>
<div class="t" style="left:335px;top:240.60px;width:91.3px;text-align:right;line-height:10.85px;font-size:7px;font-weight:bold;color:#d9d534"><span style="margin-left:-1.1px">1</span>2</div>
<div class="a" style="left:335px;top:250.45px;width:95.6px;height:10.85px;background:#33475b"></div>
<div class="a" style="left:335px;top:250.45px;width:1.3px;height:10.85px;background:#4a8fd8"></div>
<div class="t" style="left:339px;top:251.65px;line-height:10.85px;font-size:7px;color:#e2e2e2">Volume de jeu</div>
<div class="t" style="left:335px;top:251.45px;width:91.3px;text-align:right;line-height:10.85px;font-size:7px;font-weight:bold;color:#d9d534"><span style="margin-left:-1.1px">1</span>2</div>
<div class="h" style="left:431.2px;top:102.00px;font-size:5.6px;">PHYSIQUE</div>
<div class="a" style="left:431px;top:109.40px;width:95.6px;height:10.85px;background:#394a3d"></div>
<div class="a" style="left:431px;top:109.40px;width:1.3px;height:10.85px;background:#5cc25c"></div>
<div class="t" style="left:435px;top:110.60px;line-height:10.85px;font-size:7px;color:#e2e2e2">Accélération</div>
<div class="t" style="left:431px;top:110.40px;width:91.3px;text-align:right;line-height:10.85px;font-size:7px;font-weight:bold;color:#d9d534"><span style="margin-left:-1.1px">1</span>4</div>
<div class="a" style="left:431px;top:120.25px;width:95.6px;height:10.85px;background:#33475b"></div>
<div class="a" style="left:431px;top:120.25px;width:1.3px;height:10.85px;background:#4a8fd8"></div>
<div class="t" style="left:435px;top:121.45px;line-height:10.85px;font-size:7px;color:#e2e2e2">Agilité</div>
<div class="t" style="left:431px;top:121.25px;width:91.3px;text-align:right;line-height:10.85px;font-size:7px;font-weight:bold;color:#d9d534"><span style="margin-left:-1.1px">1</span>5</div>
<div class="a" style="left:431px;top:131.10px;width:95.6px;height:10.85px;background:#2e2f33"></div>
<div class="t" style="left:435px;top:132.30px;line-height:10.85px;font-size:7px;color:#e2e2e2">Détente verticale</div>
<div class="t" style="left:431px;top:132.10px;width:91.3px;text-align:right;line-height:10.85px;font-size:7px;font-weight:bold;color:#ececec">9</div>
<div class="a" style="left:431px;top:141.95px;width:95.6px;height:10.85px;background:#33475b"></div>
<div class="a" style="left:431px;top:141.95px;width:1.3px;height:10.85px;background:#4a8fd8"></div>
<div class="t" style="left:435px;top:143.15px;line-height:10.85px;font-size:7px;color:#e2e2e2">Endurance</div>
<div class="t" style="left:431px;top:142.95px;width:91.3px;text-align:right;line-height:10.85px;font-size:7px;font-weight:bold;color:#d9d534"><span style="margin-left:-1.1px">1</span>2</div>
<div class="a" style="left:431px;top:152.80px;width:95.6px;height:10.85px;background:#33475b"></div>
<div class="a" style="left:431px;top:152.80px;width:1.3px;height:10.85px;background:#4a8fd8"></div>
<div class="t" style="left:435px;top:154.00px;line-height:10.85px;font-size:7px;color:#e2e2e2">Équilibre</div>
<div class="t" style="left:431px;top:153.80px;width:91.3px;text-align:right;line-height:10.85px;font-size:7px;font-weight:bold;color:#ececec">8</div>
<div class="a" style="left:431px;top:163.65px;width:95.6px;height:10.85px;background:transparent"></div>
<div class="t" style="left:435px;top:164.85px;line-height:10.85px;font-size:7px;color:#e2e2e2">Puissance</div>
<div class="t" style="left:431px;top:164.65px;width:91.3px;text-align:right;line-height:10.85px;font-size:7px;font-weight:bold;color:#ececec"><span style="margin-left:-1.1px">1</span>0</div>
<div class="a" style="left:431px;top:174.50px;width:95.6px;height:10.85px;background:#2e2f33"></div>
<div class="t" style="left:435px;top:175.70px;line-height:10.85px;font-size:7px;color:#e2e2e2">Qualités phys. nat.</div>
<div class="t" style="left:431px;top:175.50px;width:91.3px;text-align:right;line-height:10.85px;font-size:7px;font-weight:bold;color:#22e060">20</div>
<div class="a" style="left:431px;top:185.35px;width:95.6px;height:10.85px;background:#33475b"></div>
<div class="a" style="left:431px;top:185.35px;width:1.3px;height:10.85px;background:#4a8fd8"></div>
<div class="t" style="left:435px;top:186.55px;line-height:10.85px;font-size:7px;color:#e2e2e2">Vitesse</div>
<div class="t" style="left:431px;top:186.35px;width:91.3px;text-align:right;line-height:10.85px;font-size:7px;font-weight:bold;color:#d9d534"><span style="margin-left:-1.1px">1</span>5</div>
<div class="a" style="left:431px;top:198px;width:96px;height:1px;background:#4c4d51"></div>
<div class="a" style="left:434px;top:202px;width:90px;height:12.6px;border:1px solid #cfcfcf;border-radius:2.5px;transform:skewX(-14deg)"></div>
<div class="t" style="left:438.8px;top:205.3px;font-size:6.1px;color:#e4e4e4;font-weight:normal;">Attaquant avancé (Attaq...</div>
<svg class="a" style="left:513.6px;top:206.9px" width="6" height="4" viewBox="0 0 6 4"><path d="M0.2 0.3 L3 2.3 L5.8 0.3 L5.8 1.5 L3 3.6 L0.2 1.5 Z" fill="#e8e8e8"/></svg>
<div class="h" style="left:530px;top:102.00px;font-size:5.6px;">TAILLE</div>
<div class="t" style="left:530px;top:110.2px;font-size:7px;color:#dcdcdc;font-weight:normal;">178 cm</div>
<div class="a" style="left:530px;top:121.3px;width:79px;height:1.4px;background:#4a4b4f"></div>
<div class="h" style="left:530px;top:127.90px;font-size:5.6px;">POIDS</div>
<div class="t" style="left:530px;top:136.2px;font-size:7px;color:#dcdcdc;font-weight:normal;">70 kg</div>
<div class="a" style="left:530px;top:147.1px;width:79px;height:1.4px;background:#4a4b4f"></div>
<div class="h" style="left:530px;top:153.50px;font-size:5.6px;">DESCRIPTION DES MÉDIAS</div>
<div class="t" style="left:530px;top:161.5px;font-size:7px;color:#dcdcdc;font-weight:normal;">Avant-centre</div>
<div class="a" style="left:530px;top:172.7px;width:79px;height:1.4px;background:#4a4b4f"></div>
<div class="h" style="left:530px;top:179.40px;font-size:5.6px;">NOTE (GARDIEN DE BUT)</div>
<div class="t" style="left:530px;top:188.2px;font-size:7px;color:#dcdcdc;font-weight:normal;">2</div>
<div class="a" style="left:530px;top:198.7px;width:79px;height:1.4px;background:#4a4b4f"></div>
<div class="h" style="left:530px;top:201.60px;font-size:5.6px;">CARACTÉRISTIQUES JOUE...</div>
<div class="t" style="left:530px;top:211.6px;font-size:7px;color:#dcdcdc;font-weight:normal;">Court avec le ballon sur le</div>
<div class="t" style="left:530px;top:220.4px;font-size:7px;color:#dcdcdc;font-weight:normal;">flanc droit</div>
<div class="t" style="left:530px;top:229.4px;font-size:7px;color:#dcdcdc;font-weight:normal;">Place ses frappes</div>
<div class="h" style="left:620px;top:102.87px;font-size:6.3px;transform:scaleX(0.848);transform-origin:0 0">ANALYSE DES ATTRIBUTS</div>
<svg class="a" style="left:804.6px;top:104.3px" width="6" height="4" viewBox="0 0 6 4"><path d="M0.2 0.3 L3 2.3 L5.8 0.3 L5.8 1.5 L3 3.6 L0.2 1.5 Z" fill="#f0f0f0"/></svg>
<svg class="a" style="left:647.2px;top:123.6px" width="140" height="140" viewBox="647.2 123.6 140 140"><polygon points="717.20,132.60 760.33,150.47 778.20,193.60 760.33,236.73 717.20,254.60 674.07,236.73 656.20,193.60 674.07,150.47" fill="#02a93f"/><polygon points="717.20,144.80 751.71,159.09 766.00,193.60 751.71,228.11 717.20,242.40 682.69,228.11 668.40,193.60 682.69,159.09" fill="#7db012"/><polygon points="717.20,157.10 743.01,167.79 753.70,193.60 743.01,219.41 717.20,230.10 691.39,219.41 680.70,193.60 691.39,167.79" fill="#d8a200"/><polygon points="717.20,169.30 734.38,176.42 741.50,193.60 734.38,210.78 717.20,217.90 700.02,210.78 692.90,193.60 700.02,176.42" fill="#d27400"/><polygon points="717.20,181.40 725.83,184.97 729.40,193.60 725.83,202.23 717.20,205.80 708.57,202.23 705.00,193.60 708.57,184.97" fill="#c2000c"/><polygon points="717.20,169.90 741.24,169.56 761.20,193.60 743.22,219.62 717.20,235.30 686.23,224.57 686.20,193.60 693.87,170.27" fill="none" stroke="#fff" stroke-width="1"/></svg>
<div class="t" style="left:677.2px;top:123.7px;width:80px;text-align:center;font-size:7px;color:#e2e2e2">Défense</div>
<div class="t" style="left:761.5px;top:144.7px;width:80px;text-align:left;font-size:7px;color:#e2e2e2">Physique</div>
<div class="t" style="left:780.1px;top:191.2px;width:80px;text-align:left;font-size:7px;color:#e2e2e2">Vitesse</div>
<div class="t" style="left:761.5px;top:237.4px;width:80px;text-align:left;font-size:7px;color:#e2e2e2">Vision du jeu</div>
<div class="t" style="left:677.2px;top:258.0px;width:80px;text-align:center;font-size:7px;color:#e2e2e2">Attaque</div>
<div class="t" style="left:592.9px;top:237.4px;width:80px;text-align:right;font-size:7px;color:#e2e2e2">Technique</div>
<div class="t" style="left:574.2px;top:191.2px;width:80px;text-align:right;font-size:7px;color:#e2e2e2">Jeu aérien</div>
<div class="t" style="left:592.9px;top:144.7px;width:80px;text-align:right;font-size:7px;color:#e2e2e2">Mental</div>
<div class="h" style="left:826px;top:102.87px;font-size:6.3px;transform:scaleX(0.848);transform-origin:0 0">ANALYSE DES ATTRIBUTS</div>
<svg class="a" style="left:1010.6px;top:104.3px" width="6" height="4" viewBox="0 0 6 4"><path d="M0.2 0.3 L3 2.3 L5.8 0.3 L5.8 1.5 L3 3.6 L0.2 1.5 Z" fill="#f0f0f0"/></svg>
<svg class="a" style="left:852.6px;top:123.6px" width="140" height="140" viewBox="852.6 123.6 140 140"><polygon points="922.60,132.60 965.73,150.47 983.60,193.60 965.73,236.73 922.60,254.60 879.47,236.73 861.60,193.60 879.47,150.47" fill="#02a93f"/><polygon points="922.60,144.80 957.11,159.09 971.40,193.60 957.11,228.11 922.60,242.40 888.09,228.11 873.80,193.60 888.09,159.09" fill="#7db012"/><polygon points="922.60,157.10 948.41,167.79 959.10,193.60 948.41,219.41 922.60,230.10 896.79,219.41 886.10,193.60 896.79,167.79" fill="#d8a200"/><polygon points="922.60,169.30 939.78,176.42 946.90,193.60 939.78,210.78 922.60,217.90 905.42,210.78 898.30,193.60 905.42,176.42" fill="#d27400"/><polygon points="922.60,181.40 931.23,184.97 934.80,193.60 931.23,202.23 922.60,205.80 913.97,202.23 910.40,193.60 913.97,184.97" fill="#c2000c"/><polygon points="922.60,169.90 946.64,169.56 966.60,193.60 948.62,219.62 922.60,235.30 891.63,224.57 891.60,193.60 899.27,170.27" fill="none" stroke="#fff" stroke-width="1"/></svg>
<div class="t" style="left:882.6px;top:123.7px;width:80px;text-align:center;font-size:7px;color:#e2e2e2">Défense</div>
<div class="t" style="left:966.9px;top:144.7px;width:80px;text-align:left;font-size:7px;color:#e2e2e2">Physique</div>
<div class="t" style="left:985.5px;top:191.2px;width:80px;text-align:left;font-size:7px;color:#e2e2e2">Vitesse</div>
<div class="t" style="left:966.9px;top:237.4px;width:80px;text-align:left;font-size:7px;color:#e2e2e2">Vision du jeu</div>
<div class="t" style="left:882.6px;top:258.0px;width:80px;text-align:center;font-size:7px;color:#e2e2e2">Attaque</div>
<div class="t" style="left:798.3px;top:237.4px;width:80px;text-align:right;font-size:7px;color:#e2e2e2">Technique</div>
<div class="t" style="left:779.6px;top:191.2px;width:80px;text-align:right;font-size:7px;color:#e2e2e2">Jeu aérien</div>
<div class="t" style="left:798.3px;top:144.7px;width:80px;text-align:right;font-size:7px;color:#e2e2e2">Mental</div><!--R2E-->
<!-- ===== ROW 3 ===== -->
<div class="a" style="left:0;top:276px;width:1024px;height:155px;background:#222326"></div>
<div class="sep" style="left:251px;top:280px;height:146px"></div>
<div class="sep" style="left:509px;top:280px;height:146px"></div>
<div class="sep" style="left:768px;top:280px;height:146px"></div>

<!-- ===== ROW 4 ===== -->
<div class="a" style="left:0;top:431px;width:1021px;height:2px;background:#3c3d40"></div>
<div class="a" style="left:0;top:433px;width:1024px;height:142px;background:#222326"></div>
<div class="sep" style="left:254px;top:437px;height:134.5px"></div>
<div class="sep" style="left:765px;top:437px;height:134.5px"></div>

<!--R34S--><svg class="a" style="left:0.9000000000000004px;top:282.5px" width="16" height="16" viewBox="-8 -8 16 16"><circle r="6.3" fill="none"/><circle r="5.4" fill="none" stroke="#27c24a" stroke-width="1.3" stroke-dasharray="30 4" transform="rotate(-70)"/><circle r="3.4" fill="none" stroke="#27c24a" stroke-width="1" stroke-dasharray="17 3" transform="rotate(-80)"/></svg>
<div class="h" style="left:19.6px;top:285.07px;font-size:6.3px;transform:scaleX(0.847);transform-origin:0 0">PHYSIQUE &gt;</div>
<div class="t" style="left:19.6px;top:293.83px;font-size:7.05px;color:#ececec;font-weight:bold;">Prêt à jouer</div>
<div class="t" style="left:19.6px;top:304.79px;font-size:4.85px;color:#a8a8a8;font-weight:normal;">CON/FOR</div>
<div class="t" style="left:19.6px;top:311.08px;font-size:6.4px;color:#2ecf5a;font-weight:normal;"><span style="color:#2ecf5a">96%</span><span style="color:#bbb">/</span><span style="color:#2ecf5a">92%</span></div>
<div class="t" style="left:109.1px;top:304.66px;font-size:4.3px;color:#a8a8a8;font-weight:normal;">RISQUE DE BLESSURE</div>
<div class="t" style="left:109.1px;top:310.84px;font-size:6.8px;color:#e4e4e4;font-weight:normal;">Normal</div>
<svg class="a" style="left:232.7px;top:287.8px" width="6" height="4" viewBox="0 0 6 4"><path d="M0.2 0.3 L3 2.3 L5.8 0.3 L5.8 1.5 L3 3.6 L0.2 1.5 Z" fill="#f0f0f0"/></svg>
<div class="a" style="left:-4px;top:317.1px;width:55.7px;height:15.7px;background:#1b1c1e;border-radius:2px"></div>
<div class="t" style="left:-1.2px;top:321.54px;font-size:7.4px;color:#8a8a8a;font-weight:normal;">nner une ligne</div>
<svg class="a" style="left:259.2px;top:283.6px" width="16" height="16" viewBox="-8 -8 16 16"><circle r="6.3" fill="#5ad42a"/><path d="M3 -3.2 L-3.2 -0.6 L-0.4 0.2 L0.4 3.2 Z" fill="#233a1c"/></svg>
<div class="h" style="left:277px;top:285.07px;font-size:6.3px;transform:scaleX(0.878);transform-origin:0 0">DYNAMIQUE DE GROUPE &gt;</div>
<div class="t" style="left:277px;top:292.66px;font-size:7.2px;color:#e0e0e0;font-weight:normal;"><span style="color:#55a7d6">Autres</span> <span style="color:#9a9a9a;font-size:6.8px">&nbsp;( Cercle d&#39;amis secondaire A )</span></div>
<div class="t" style="left:277px;top:301.79px;font-size:7.1px;color:#e0e0e0;font-weight:normal;"><span style="color:#22c84c">4 facteurs positifs</span> <span style="color:#bbb">&nbsp;/&nbsp;</span><span style="color:#e8483a">1 négatif</span></div>
<div class="t" style="left:277px;top:310.08px;font-size:6.28px;color:#dedede;font-weight:normal;">Content des efforts déjà consentis pour renforcer l&#39;équipe</div>
<svg class="a" style="left:491.5px;top:287.8px" width="6" height="4" viewBox="0 0 6 4"><path d="M0.2 0.3 L3 2.3 L5.8 0.3 L5.8 1.5 L3 3.6 L0.2 1.5 Z" fill="#f0f0f0"/></svg>
<svg class="a" style="left:517.2px;top:282.8px" width="16" height="16" viewBox="-8 -8 16 16"><circle r="6.4" fill="#d81f36"/><path d="M-1.3 -2.6 L1.3 0 L-1.3 2.6" stroke="#fff" stroke-width="1.3" fill="none"/></svg>
<div class="h" style="left:535.6px;top:285.07px;font-size:6.3px;transform:scaleX(0.833);transform-origin:0 0">PROJETS &gt;</div>
<div class="t" style="left:535.8px;top:291.77px;font-size:7.6px;color:#e2e2e2;font-weight:normal;text-shadow:0.25px 0 0 #e2e2e2;">Aucun projet à court terme</div>
<div class="t" style="left:535.8px;top:302.03px;font-size:6.93px;color:#a2a2a2;font-weight:normal;">Aucun projet sur le long terme</div>
<svg class="a" style="left:749.5px;top:287.8px" width="6" height="4" viewBox="0 0 6 4"><path d="M0.2 0.3 L3 2.3 L5.8 0.3 L5.8 1.5 L3 3.6 L0.2 1.5 Z" fill="#f0f0f0"/></svg>
<svg class="a" style="left:777.7px;top:284.3px" width="16" height="16" viewBox="-8 -8 16 16"><circle r="6.3" fill="#d81f36"/><rect x="-1.6" y="-2.2" width="3.4" height="4.4" fill="#fff" transform="rotate(12)"/></svg>
<div class="h" style="left:794.1px;top:285.07px;font-size:6.3px;transform:scaleX(0.866);transform-origin:0 0">SUSPENSIONS</div>
<div class="a" style="left:794.1px;top:295.1px;width:4.2px;height:5.6px;background:#8c8c8c"></div>
<div class="a" style="left:799px;top:295.1px;width:4.2px;height:5.6px;background:#8c8c8c"></div>
<div class="a" style="left:803.9px;top:295.1px;width:4.2px;height:5.6px;background:#8c8c8c"></div>
<div class="a" style="left:794.1px;top:306px;width:4.2px;height:5.6px;background:#8c8c8c"></div>
<div class="a" style="left:799px;top:306px;width:4.2px;height:5.6px;background:#8c8c8c"></div>
<div class="a" style="left:803.9px;top:306px;width:4.2px;height:5.6px;background:#8c8c8c"></div>
<div class="t" style="left:813.8px;top:295.93px;font-size:6.7px;color:#e2e2e2;font-weight:normal;">Ligue 1 Conforama</div>
<div class="t" style="left:813.8px;top:305.83px;font-size:6.7px;color:#e2e2e2;font-weight:normal;">Coupe de France</div>
<svg class="a" style="left:1008.3000000000001px;top:287.8px" width="6" height="4" viewBox="0 0 6 4"><path d="M0.2 0.3 L3 2.3 L5.8 0.3 L5.8 1.5 L3 3.6 L0.2 1.5 Z" fill="#f0f0f0"/></svg>
<svg class="a" style="left:0.5999999999999996px;top:439.7px" width="16" height="16" viewBox="-8 -8 16 16"><circle r="6.2" fill="#d81f36"/><path d="M-4 0.8 L-2 -0.5 L-0.5 0.8 L1.5 -0.8 L4 0.2" stroke="#f4c8cc" stroke-width="0.8" fill="none"/></svg>
<div class="h" style="left:19.6px;top:442.07px;font-size:6.3px;transform:scaleX(0.83);transform-origin:0 0">FORME &gt;</div>
<svg class="a" style="left:235.7px;top:444.7px" width="6" height="4" viewBox="0 0 6 4"><path d="M0.2 0.3 L3 2.3 L5.8 0.3 L5.8 1.5 L3 3.6 L0.2 1.5 Z" fill="#f0f0f0"/></svg>
<div class="a" style="left:24.8px;top:450.6px;width:213px;height:1px;background:#3a3b3e"></div>
<div class="a" style="left:24.8px;top:472.0px;width:213px;height:1px;background:#3a3b3e"></div>
<div class="a" style="left:24.8px;top:493.0px;width:213px;height:1px;background:#3a3b3e"></div>
<div class="a" style="left:24.8px;top:514.1px;width:213px;height:1px;background:#3a3b3e"></div>
<div class="a" style="left:24.8px;top:535.3px;width:213px;height:1px;background:#3a3b3e"></div>
<div class="a" style="left:24.8px;top:556.7px;width:213px;height:1px;background:#3a3b3e"></div>
<svg class="a" style="left:20px;top:452px" width="66" height="42" viewBox="20 452 66 42"><path d="M25.3 488.4 L79 457.6" stroke="#3fe0cf" stroke-width="1.4"/><rect x="23.9" y="487" width="2.8" height="2.8" fill="#3fe0cf"/><rect x="77.6" y="456.2" width="2.8" height="2.8" fill="#3fe0cf"/></svg>
<svg class="a" style="left:20px;top:560px" width="8" height="8" viewBox="0 0 8 8"><polygon points="3.3,0.8 4.2,2.7 6.3,2.9 4.7,4.3 5.2,6.4 3.3,5.3 1.4,6.4 1.9,4.3 0.3,2.9 2.4,2.7" fill="#e8e8e8"/></svg>
<div class="t" style="left:28.9px;top:561.11px;font-size:5.9px;color:#9c9c9c;font-weight:normal;">N. moy.: 7,95</div>
<svg class="a" style="left:94px;top:560px" width="8" height="8" viewBox="-4 -4 8 8"><circle r="3" fill="#e8e8e8"/><circle r="1.1" fill="#333"/><circle cx="0" cy="-2.6" r="0.6" fill="#333"/><circle cx="2.3" cy="1.4" r="0.6" fill="#333"/><circle cx="-2.3" cy="1.4" r="0.6" fill="#333"/></svg>
<div class="t" style="left:104.4px;top:561.06px;font-size:5.95px;color:#9c9c9c;font-weight:normal;">2 buts</div>
<svg class="a" style="left:168px;top:559.5px" width="9" height="9" viewBox="-4.5 -4.5 9 9"><circle cx="1" cy="-0.8" r="2.7" fill="#e8e8e8"/><circle cx="-1.5" cy="1.2" r="2.4" fill="#e8e8e8" stroke="#222" stroke-width="0.5"/><circle cx="-1.5" cy="1.2" r="0.8" fill="#333"/><circle cx="1.3" cy="-1" r="0.8" fill="#333"/></svg>
<div class="t" style="left:179.6px;top:560.94px;font-size:6.1px;color:#9c9c9c;font-weight:normal;">0 passes décisives</div>
<svg class="a" style="left:264.1px;top:441px" width="16" height="16" viewBox="-8 -8 16 16"><circle r="6.3" fill="#d81f36"/><polygon points="-0.81,-3.61 0.81,-3.61 0.78,-2.48 1.76,-1.91 2.72,-2.50 3.53,-1.11 2.54,-0.57 2.54,0.57 3.53,1.11 2.72,2.50 1.76,1.91 0.78,2.48 0.81,3.61 -0.81,3.61 -0.78,2.48 -1.76,1.91 -2.72,2.50 -3.53,1.11 -2.54,0.57 -2.54,-0.57 -3.53,-1.11 -2.72,-2.50 -1.76,-1.91 -0.78,-2.48" fill="#fff" transform="rotate(8)"/><circle r="1.1" fill="#d81f36"/></svg>
<div class="h" style="left:280.5px;top:442.07px;font-size:6.3px;transform:scaleX(0.86);transform-origin:0 0">STATS SAISON &gt;</div>
<div class="t" style="left:411px;top:445.18px;width:40px;text-align:center;font-size:4.4px;font-weight:bold;color:#b4b4b4">APPS</div>
<div class="t" style="left:442.8px;top:445.18px;width:40px;text-align:center;font-size:4.4px;font-weight:bold;color:#b4b4b4">BUTS</div>
<div class="t" style="left:471.7px;top:445.18px;width:40px;text-align:center;font-size:4.4px;font-weight:bold;color:#b4b4b4">DÉC</div>
<div class="t" style="left:499.79999999999995px;top:445.18px;width:40px;text-align:center;font-size:4.4px;font-weight:bold;color:#b4b4b4">PEN</div>
<div class="t" style="left:528.2px;top:445.18px;width:40px;text-align:center;font-size:4.4px;font-weight:bold;color:#b4b4b4">HOM</div>
<div class="t" style="left:557px;top:445.18px;width:40px;text-align:center;font-size:4.4px;font-weight:bold;color:#b4b4b4">JAU</div>
<div class="t" style="left:585px;top:445.18px;width:40px;text-align:center;font-size:4.4px;font-weight:bold;color:#b4b4b4">ROUGE</div>
<div class="t" style="left:612.6px;top:445.18px;width:40px;text-align:center;font-size:4.4px;font-weight:bold;color:#b4b4b4">DRBPM</div>
<div class="t" style="left:640.3px;top:445.18px;width:40px;text-align:center;font-size:4.4px;font-weight:bold;color:#b4b4b4">TIRS C.</div>
<div class="t" style="left:668.5px;top:445.18px;width:40px;text-align:center;font-size:4.4px;font-weight:bold;color:#b4b4b4">% PAS.</div>
<div class="t" style="left:696.7px;top:445.18px;width:40px;text-align:center;font-size:4.4px;font-weight:bold;color:#b4b4b4">TCL R</div>
<div class="t" style="left:722.6px;top:445.18px;width:40px;text-align:center;font-size:4.4px;font-weight:bold;color:#b4b4b4">NOTE M...</div>
<div class="a" style="left:280px;top:452.3px;width:474.4px;height:9.4px;background:#2a2b2e"></div>
<svg class="a" style="left:284px;top:453px" width="8" height="9" viewBox="0 0 8 9"><path d="M1 1.3 L4 0.5 L7 1.3 L7 4.5 C7 6.5 5.5 7.6 4 8.3 C2.5 7.6 1 6.5 1 4.5 Z" fill="#e8e8e8"/><path d="M4 0.5 L7 1.3 L7 4.5 C7 6.5 5.5 7.6 4 8.3 Z" fill="#bdbdbd"/></svg>
<div class="t" style="left:296.2px;top:453.77px;font-size:7px;color:#b0b0b0;font-weight:normal;">Hors compétition</div>
<div class="t" style="left:411px;top:453.77px;width:40px;text-align:center;font-size:7px;color:#d6d6d6">2 (0)</div>
<div class="t" style="left:442.8px;top:453.77px;width:40px;text-align:center;font-size:7px;color:#d6d6d6">2</div>
<div class="t" style="left:471.7px;top:453.77px;width:40px;text-align:center;font-size:7px;color:#d6d6d6">0</div>
<div class="t" style="left:499.79999999999995px;top:453.77px;width:40px;text-align:center;font-size:7px;color:#d6d6d6">0 (0)</div>
<div class="t" style="left:528.2px;top:453.77px;width:40px;text-align:center;font-size:7px;color:#d6d6d6">1</div>
<div class="t" style="left:557px;top:453.77px;width:40px;text-align:center;font-size:7px;color:#d6d6d6">0</div>
<div class="t" style="left:585px;top:453.77px;width:40px;text-align:center;font-size:7px;color:#d6d6d6">0</div>
<div class="t" style="left:612.6px;top:453.77px;width:40px;text-align:center;font-size:7px;color:#d6d6d6">0,64</div>
<div class="t" style="left:640.3px;top:453.77px;width:40px;text-align:center;font-size:7px;color:#d6d6d6">57%</div>
<div class="t" style="left:668.5px;top:453.77px;width:40px;text-align:center;font-size:7px;color:#d6d6d6">77%</div>
<div class="t" style="left:696.7px;top:453.77px;width:40px;text-align:center;font-size:7px;color:#d6d6d6">-</div>
<div class="a" style="left:734.6px;top:453.2px;width:18px;height:7.4px;border-radius:4px;background:#5cb814"></div>
<div class="t" style="left:734.6px;top:454.36px;width:18px;text-align:center;font-size:5.8px;font-weight:bold;color:#24500c">7,95</div>
<svg class="a" style="left:773.2px;top:439.4px" width="16" height="16" viewBox="-8 -8 16 16"><circle r="6.3" fill="#d81f36"/><polygon points="-0.81,-3.61 0.81,-3.61 0.78,-2.48 1.76,-1.91 2.72,-2.50 3.53,-1.11 2.54,-0.57 2.54,0.57 3.53,1.11 2.72,2.50 1.76,1.91 0.78,2.48 0.81,3.61 -0.81,3.61 -0.78,2.48 -1.76,1.91 -2.72,2.50 -3.53,1.11 -2.54,0.57 -2.54,-0.57 -3.53,-1.11 -2.72,-2.50 -1.76,-1.91 -0.78,-2.48" fill="#fff" transform="rotate(8)"/><circle r="1.1" fill="#d81f36"/></svg>
<div class="h" style="left:791.8px;top:441.87px;font-size:6.3px;transform:scaleX(0.83);transform-origin:0 0">STATS CARRIÈRE &gt;</div>
<svg class="a" style="left:1008.1px;top:444.3px" width="6" height="4" viewBox="0 0 6 4"><path d="M0.2 0.3 L3 2.3 L5.8 0.3 L5.8 1.5 L3 3.6 L0.2 1.5 Z" fill="#f0f0f0"/></svg>
<div class="t" style="left:791.8px;top:453.88px;font-size:4.4px;color:#a8a8a8;font-weight:bold;">ÉQUIPE</div>
<div class="t" style="left:969.7px;top:453.88px;font-size:4.4px;color:#a8a8a8;font-weight:bold;">APPS</div>
<div class="t" style="left:995.6px;top:453.88px;font-size:4.4px;color:#a8a8a8;font-weight:bold;">BUTS</div>
<div class="t" style="left:791.8px;top:464.35px;font-size:6.2px;color:#a0a0a0;font-weight:normal;">23-24</div>
<div class="t" style="left:826.9px;top:464.1px;font-size:6.5px;color:#4aa8d0;font-weight:normal;">Dijon FCO</div>
<div class="t" style="left:969.7px;top:464.64px;font-size:6.8px;color:#e4e4e4;font-weight:normal;transform:scaleX(0.82);transform-origin:0 0;">0</div>
<div class="t" style="left:995.6px;top:464.64px;font-size:6.8px;color:#e4e4e4;font-weight:normal;transform:scaleX(0.82);transform-origin:0 0;">-</div>
<svg class="a" style="left:815.5px;top:461.8px" width="10" height="10" viewBox="0 0 10 10"><path d="M0.6 1.5 C3 0.2 7 0.2 9.4 1.5 C9.8 4.5 8.5 7.3 5 9.4 C1.5 7.3 0.2 4.5 0.6 1.5 Z" fill="#e8546c" stroke="#f7b0bc" stroke-width="0.5"/><rect x="2" y="2" width="6" height="1.5" fill="#fbd8dd"/></svg>
<div class="t" style="left:791.8px;top:475.75px;font-size:6.2px;color:#a0a0a0;font-weight:normal;">19-23</div>
<div class="t" style="left:826.9px;top:475.5px;font-size:6.5px;color:#e4e4e4;font-weight:normal;">Real Madrid</div>
<div class="t" style="left:969.7px;top:476.04px;font-size:6.8px;color:#e4e4e4;font-weight:normal;transform:scaleX(0.82);transform-origin:0 0;">1</div>
<div class="t" style="left:995.6px;top:476.04px;font-size:6.8px;color:#e4e4e4;font-weight:normal;transform:scaleX(0.82);transform-origin:0 0;">0</div>
<svg class="a" style="left:815.5px;top:472.4px" width="10" height="11" viewBox="0 0 10 11"><path d="M2.4 3.2 C2.4 1.5 3.5 0.8 5 0.8 C6.5 0.8 7.6 1.5 7.6 3.2 Z" fill="#e0c870"/><circle cx="5" cy="6.8" r="3.8" fill="#f2f2f2" stroke="#d8b830" stroke-width="0.8"/><path d="M3 5 L7 8.8" stroke="#3060b0" stroke-width="1.2"/></svg>
<div class="t" style="left:791.8px;top:486.95px;font-size:6.2px;color:#a0a0a0;font-weight:normal;">17-23</div>
<div class="t" style="left:826.9px;top:486.7px;font-size:6.5px;color:#e4e4e4;font-weight:normal;">Real Madrid Castilla</div>
<div class="t" style="left:969.7px;top:487.24px;font-size:6.8px;color:#e4e4e4;font-weight:normal;transform:scaleX(0.82);transform-origin:0 0;">121</div>
<div class="t" style="left:995.6px;top:487.24px;font-size:6.8px;color:#e4e4e4;font-weight:normal;transform:scaleX(0.82);transform-origin:0 0;">35</div>
<svg class="a" style="left:815.5px;top:483.59999999999997px" width="10" height="11" viewBox="0 0 10 11"><path d="M2.4 3.2 C2.4 1.5 3.5 0.8 5 0.8 C6.5 0.8 7.6 1.5 7.6 3.2 Z" fill="#e0c870"/><circle cx="5" cy="6.8" r="3.8" fill="#f2f2f2" stroke="#d8b830" stroke-width="0.8"/><path d="M3 5 L7 8.8" stroke="#3060b0" stroke-width="1.2"/></svg>
<div class="t" style="left:816px;top:501.54px;font-size:10.7px;color:#8d8d8d;font-weight:normal;">Activer Windows</div>
<div class="t" style="left:816px;top:516.21px;font-size:7.55px;color:#8d8d8d;font-weight:normal;">Accédez aux paramètres pour activer Windows.</div>
<div class="t" style="left:791.8px;top:558.73px;font-size:6.7px;color:#e4e4e4;font-weight:normal;">Général3 club(s)</div>
<div class="t" style="left:969.7px;top:559.14px;font-size:6.8px;color:#e4e4e4;font-weight:normal;transform:scaleX(0.82);transform-origin:0 0;">122</div>
<div class="t" style="left:995.6px;top:559.14px;font-size:6.8px;color:#e4e4e4;font-weight:normal;transform:scaleX(0.82);transform-origin:0 0;">35</div><!--R34E-->
</body></html>
